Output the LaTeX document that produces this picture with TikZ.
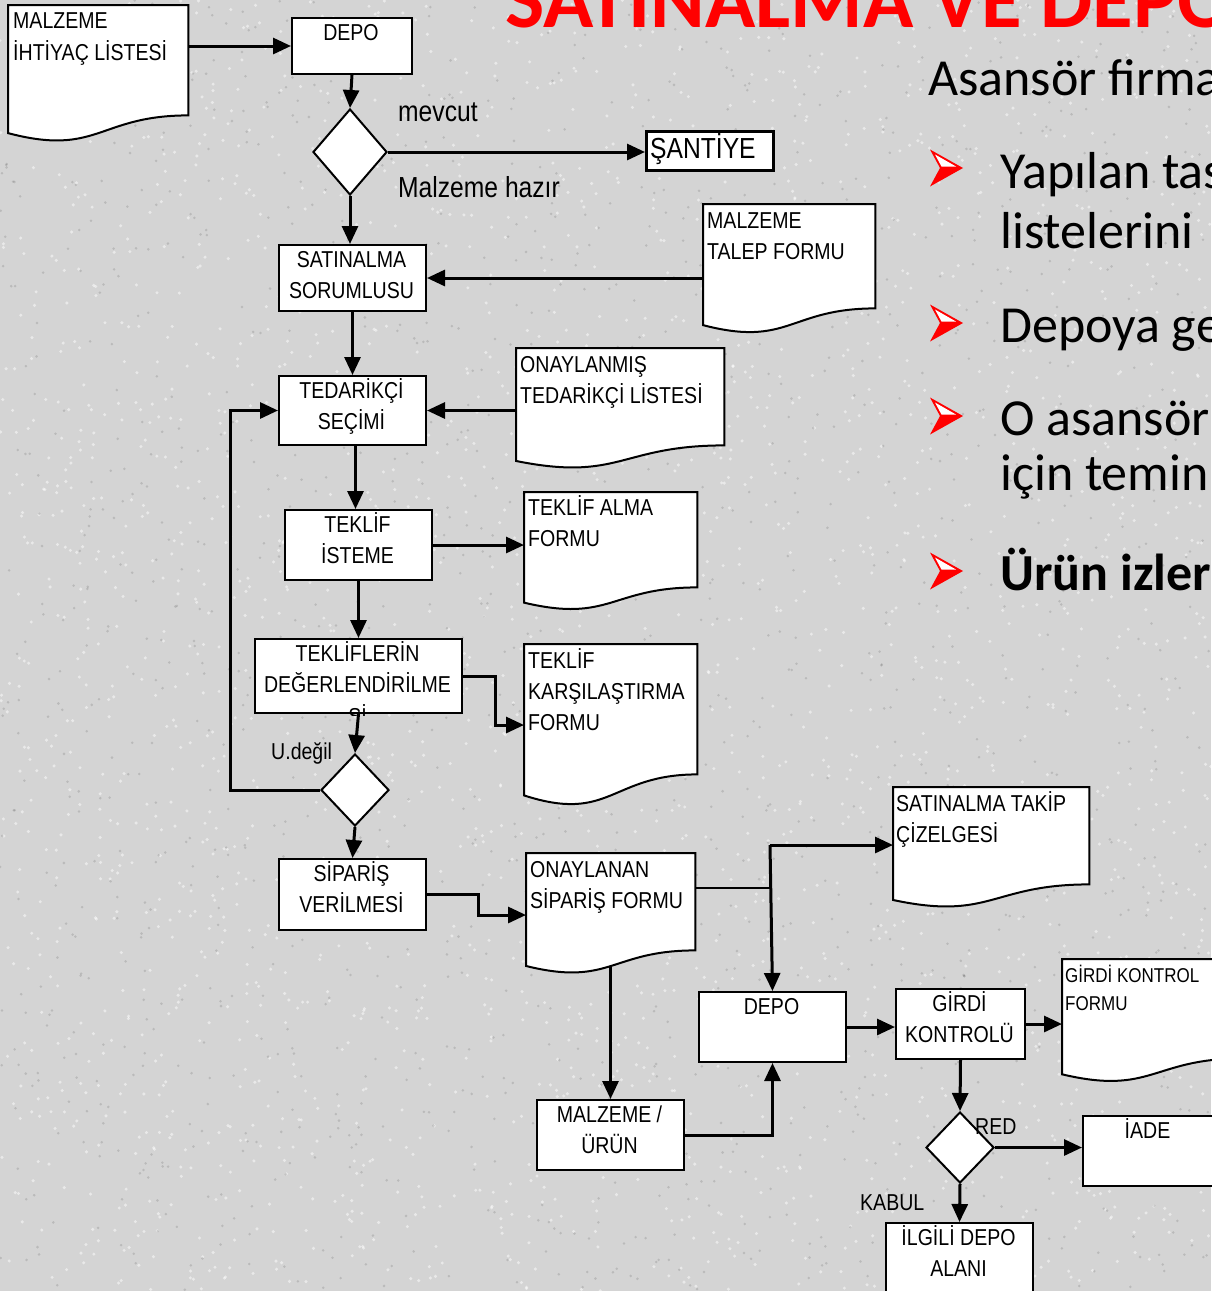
\documentclass[tikz,border=0pt]{standalone}
\usepackage{fontspec}
\usetikzlibrary{shapes.geometric,arrows.meta,calc}
\newfontfamily\flowfont[FakeStretch=0.85]{Liberation Sans}
\newfontfamily\slidefont{Carlito}
\definecolor{slidebg}{RGB}{212,212,212}
\definecolor{titlered}{RGB}{255,0,0}
\pgfdeclarelayer{backdrop}
\pgfdeclarelayer{links}
\pgfsetlayers{backdrop,links,main}

\tikzset{
  procbox/.style={draw=black, fill=white, line width=2pt, rectangle, inner sep=0pt, anchor=north west},
  decision/.style={draw=black, fill=white, line width=2pt, diamond, inner sep=0pt},
  docarea/.style={rectangle, inner sep=0pt, anchor=north west},
  docline/.style={draw=black, fill=white, line width=2pt, line join=miter},
  boxtext/.style={inner sep=0pt, anchor=base, font=\flowfont\fontsize{23}{31}\selectfont},
  doctext/.style={inner sep=0pt, anchor=base west, font=\flowfont\fontsize{23}{31}\selectfont},
  smalldoctext/.style={inner sep=0pt, anchor=base west, font=\flowfont\fontsize{20}{28.5}\selectfont},
  flowlabel/.style={inner sep=0pt, anchor=base west, font=\flowfont\fontsize{23}{31}\selectfont},
  biglabel/.style={inner sep=0pt, anchor=base west, font=\flowfont\fontsize{29}{35}\selectfont},
  link/.style={line width=3pt, -{Triangle[length=18pt,width=16pt]}},
  thinlink/.style={line width=2pt},
  slidetext/.style={inner sep=0pt, anchor=base west, font=\slidefont\fontsize{52}{58}\selectfont},
}

% process box: name, left, top, right, bottom, text lines
\newcommand\procbox[6]{%
  \node[procbox, minimum width={#4-#2}, minimum height={#5-#3}] (#1) at (#2,#3) {};
  \node[boxtext] (#1-t) at ({(#2+#4)/2},{#3+23.5}) {\begin{tabular}[t]{@{}c@{}}#6\end{tabular}};
}

% document symbol: name, left, top, right, bottom of the right edge
\newcommand\docshape[5]{%
  \node[docarea, minimum width={#4-#2}, minimum height={#5-#3}] (#1) at (#2,#3) {};
  \pgfmathsetmacro\dochgt{(#5-#3)/0.802}%
  \path[docline] (#1.north west) -- (#1.north east) -- (#1.south east)
    .. controls (#1.south) and ($(#1.north)+(0,{1.1075*\dochgt})$) ..
    ($(#1.north west)+(0,{0.934*\dochgt})$) -- cycle;
}

% red arrowhead bullet: name, left x, centre y
\newcommand\bulletarrow[3]{%
  \coordinate (#1) at (#2,#3);
  \fill[titlered] (#2,#3-18.5) -- (#2+33,#3) -- (#2,#3+18.5) -- (#2+10,#3) -- cycle;
  \fill[white] (#2+5,#3-13.5) -- (#2+26,#3-1.5) -- (#2+11.5,#3-1.5) -- cycle;
}

\begin{document}
\begin{tikzpicture}[x=1pt,y=-1pt]
\useasboundingbox (0,0) rectangle (1211,1291);
\begin{pgfonlayer}{backdrop}
  \fill[slidebg] (0,0) rectangle (1211,1291);
  % granite grain of the slide background
  \pgfmathsetseed{4242}
  \foreach \k in {1,...,2600} {
    \pgfmathsetmacro\px{rnd*1211}
    \pgfmathsetmacro\py{rnd*1291}
    \fill[white, opacity=0.5] (\px,\py) circle (1.7);
  }
  \foreach \k in {1,...,1600} {
    \pgfmathsetmacro\px{rnd*1211}
    \pgfmathsetmacro\py{rnd*1291}
    \fill[black, opacity=0.12] (\px,\py) circle (1.4);
  }
\end{pgfonlayer}

% ---------- slide text on the right ----------
\node[inner sep=0pt, anchor=base west, text=titlered,
      font=\slidefont\bfseries\fontsize{83}{90}\selectfont] (title) at (505,27) {SATINALMA VE DEPO};
\node[slidetext] (intro) at (928,95) {Asansör firma};
\bulletarrow{b1}{930}{168}
\bulletarrow{b2}{930}{323}
\bulletarrow{b3}{930}{416}
\bulletarrow{b4}{930}{571}
\node[slidetext] (l1a) at (1000,188) {Yapılan tas};
\node[slidetext] (l1b) at (1000,248) {listelerini};
\node[slidetext] (l2) at (1000,342) {Depoya ge};
\node[slidetext] (l3a) at (1000,435) {O asansör};
\node[slidetext] (l3b) at (1000,490) {için temin};
\node[slidetext, font=\slidefont\bfseries\fontsize{52}{58}\selectfont] (l4) at (1000,590) {Ürün izler};

% ---------- documents ----------
\docshape{ihtiyac}{8}{5}{188}{115}
\node[doctext] (ihtiyac-t) at (13,28) {\begin{tabular}[t]{@{}l@{}}MALZEME\\[1pt]İHTİYAÇ LİSTESİ\end{tabular}};
\docshape{talep}{703}{204}{875}{308}
\node[doctext] (talep-t) at (707,228) {\begin{tabular}[t]{@{}l@{}}MALZEME\\TALEP FORMU\end{tabular}};
\docshape{onaylist}{516}{348}{724}{445}
\node[doctext] (onaylist-t) at (520,372) {\begin{tabular}[t]{@{}l@{}}ONAYLANMIŞ\\TEDARİKÇİ LİSTESİ\end{tabular}};
\docshape{alma}{524}{492}{697}{587}
\node[doctext] (alma-t) at (528,515) {\begin{tabular}[t]{@{}l@{}}TEKLİF ALMA\\FORMU\end{tabular}};
\docshape{kars}{524}{644}{697}{774}
\node[doctext] (kars-t) at (528,668) {\begin{tabular}[t]{@{}l@{}}TEKLİF\\KARŞILAŞTIRMA\\FORMU\end{tabular}};
\docshape{onay}{526}{853}{695}{950}
\node[doctext] (onay-t) at (530,877) {\begin{tabular}[t]{@{}l@{}}ONAYLANAN\\SİPARİŞ FORMU\end{tabular}};
\docshape{takip}{893}{787}{1089}{884}
\node[doctext] (takip-t) at (896,811) {\begin{tabular}[t]{@{}l@{}}SATINALMA TAKİP\\ÇİZELGESİ\end{tabular}};
\docshape{gkf}{1062}{959}{1242}{1058}
\node[smalldoctext] (gkf-t) at (1065,982) {\begin{tabular}[t]{@{}l@{}}GİRDİ KONTROL\\FORMU\end{tabular}};

% ---------- process boxes ----------
\procbox{depo1}{291}{17}{411}{73}{DEPO}
\node[procbox, line width=2.5pt, minimum width=127, minimum height=39] (santiye) at (645,130) {};
\node[biglabel] (santiye-t) at (650,158) {ŞANTİYE};
\procbox{sat}{278}{244}{425}{310}{SATINALMA\\SORUMLUSU}
\procbox{ted}{278}{375}{425}{444}{TEDARİKÇİ\\SEÇİMİ}
\procbox{ist}{284}{509}{431}{579}{TEKLİF\\İSTEME}
\procbox{deg}{254}{638}{461}{712}{TEKLİFLERİN\\DEĞERLENDİRİLME}
\begin{scope}
  \clip (254,697) rectangle (461,715);
  \node[boxtext] (deg-t3) at (357.5,724) {Sİ};
\end{scope}
\procbox{sip}{278}{858}{425}{929}{SİPARİŞ\\VERİLMESİ}
\procbox{depo2}{698}{991}{845}{1061}{DEPO}
\procbox{girdi}{895}{988}{1024}{1058}{GİRDİ\\KONTROLÜ}
\procbox{urun}{536}{1099}{683}{1169}{MALZEME /\\ÜRÜN}
\procbox{iade}{1082}{1115}{1213}{1185}{İADE}
\procbox{ilgili}{885}{1222}{1032}{1296}{İLGİLİ DEPO\\ALANI}

% ---------- decisions ----------
\node[decision, minimum width=74, minimum height=86] (d1) at (350,152) {};
\node[decision, minimum width=68, minimum height=72] (d2) at (355,790) {};
\node[decision, minimum width=68, minimum height=71] (d3) at (960,1147.5) {};

% ---------- branch labels ----------
\node[biglabel] (mevcut) at (398,121) {mevcut};
\node[biglabel] (hazir) at (398,197) {Malzeme hazır};
\node[flowlabel] (udegil) at (271,759) {U.değil};
\node[flowlabel] (red) at (975,1134) {RED};
\node[flowlabel] (kabul) at (860,1210) {KABUL};

\coordinate (split) at (770,845);
\coordinate (junc) at (770,888);

% ---------- connectors ----------
\begin{pgfonlayer}{links}
  \draw[link] (ihtiyac.center |- depo1.west) -- (depo1.west);
  \draw[link] (depo1.south) -- (d1.north);
  \draw[link] (d1.east) -- (d1.east -| santiye.west);
  \draw[link] (d1.south) -- (d1.south |- sat.north);
  \draw[link] (talep.center |- sat.east) -- (sat.east);
  \draw[link] (sat.south) -- (ted.north);
  \draw[link] (onaylist.center |- ted.east) -- (ted.east);
  \draw[link] ([xshift=3pt]ted.south) -- ([xshift=3pt]ted.south |- ist.north);
  \draw[link] (ist.east) -- (ist.east -| alma.west);
  \draw[link] (ist.south) -- (ist.south |- deg.north);
  \draw[link] (deg.east) -- ++(32,0) |- ([yshift=-81pt]kars.north west);
  \draw[link] (deg.south) -- (d2.north);
  \draw[link] (d2.west) -- ++(-90,0) |- (ted.west);
  \draw[link] (d2.south) -- (sip.north);
  \draw[link] (sip.east) -- ++(51,0) |- ([yshift=-62pt]onay.north west);
  \draw[thinlink] (onay.center |- junc) -- (junc);
  \draw[link] (split) -- (split -| takip.west);
  \draw[link] (split) -- (depo2.north);
  \draw[line width=3pt] (split) -- ++(10,0);
  \draw[link] (onay.center -| urun.north) -- (urun.north);
  \draw[link] (urun.east) -| (depo2.south);
  \draw[link] (depo2.east) -- (depo2.east -| girdi.west);
  \draw[link] (girdi.east) -- (girdi.east -| gkf.west);
  \draw[link] (girdi.south) -- (d3.north);
  \draw[link] (d3.east) -- (d3.east -| iade.west);
  \draw[link] (d3.south) -- (ilgili.north);
\end{pgfonlayer}
\end{tikzpicture}
\end{document}
